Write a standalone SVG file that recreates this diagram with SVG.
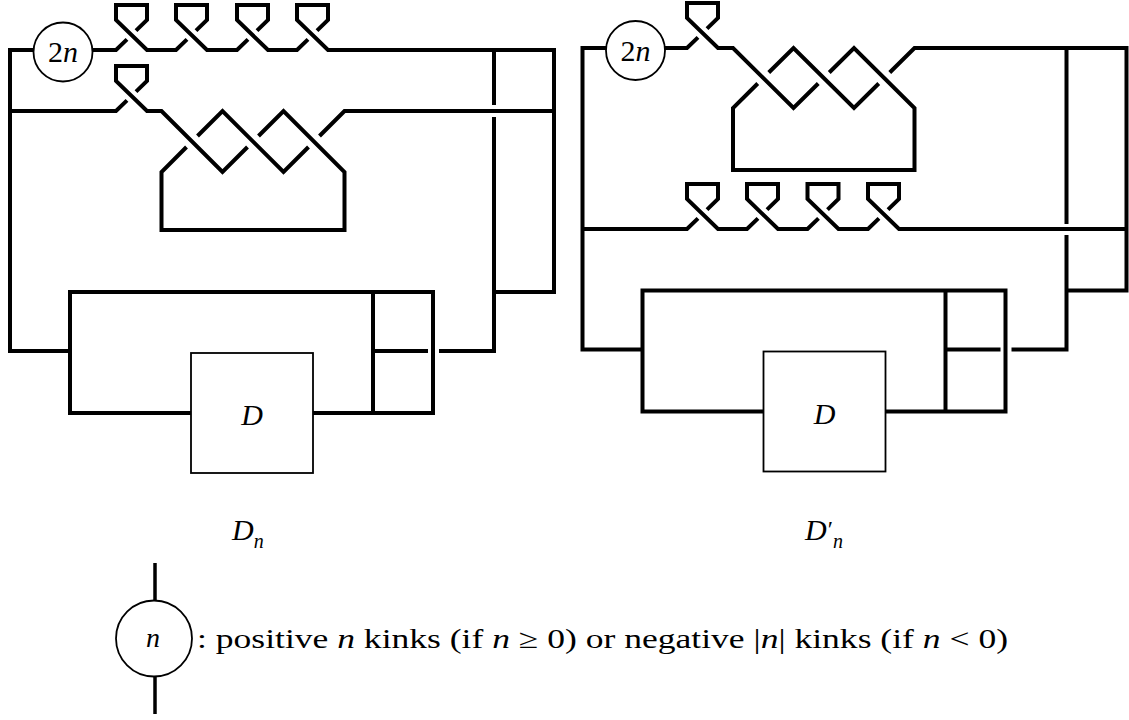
<svg xmlns="http://www.w3.org/2000/svg" width="1129" height="720" viewBox="0 0 1129 720">
<style>
.k{fill:none;stroke:#000;stroke-width:4;stroke-linejoin:miter;stroke-linecap:butt}
.t{fill:#fff;stroke:#000;stroke-width:1.8}
.tl{fill:none;stroke:#000;stroke-width:3.5}
.m{font-family:"Liberation Serif","Times New Roman",serif;fill:#000}
.i{font-style:italic}
</style>
<rect width="1129" height="720" fill="#fff"/>
<g id="connectors">
  <!-- Left diagram D_n -->
  <path class="k" d="M70 351 L10 351 L10 50 L33.5 50"/>
  <path class="k" d="M92.5 50 L116 50 L127 39.4"/>
  <path class="k" d="M136 30.6 L147 20 L147 5 L116 5 L116 20 L147 50 L176 50 L187 39.4"/>
  <path class="k" d="M196 30.6 L207 20 L207 5 L176 5 L176 20 L207 50 L237 50 L248 39.4"/>
  <path class="k" d="M257 30.6 L268 20 L268 5 L237 5 L237 20 L268 50 L297 50 L308 39.4"/>
  <path class="k" d="M317 30.6 L328 20 L328 5 L297 5 L297 20 L328 50 L554 50 L554 292 L494 292"/>
  <path class="k" d="M494 50 L494 105"/>
  <path class="k" d="M494 117 L494 351 L439 351"/>
  <path class="k" d="M10 111 L116 111 L127 100.4"/>
  <path class="k" d="M136 91.6 L147 81 L147 66 L116 66 L116 81 L147 111 L161.5 111 L222.5 172 L247.5 147"/>
  <path class="k" d="M258.5 136 L283.5 111 L344.5 172 L344.5 230 L161.5 230 L161.5 172 L186.5 147"/>
  <path class="k" d="M197.5 136 L222.5 111 L283.5 172 L308.5 147"/>
  <path class="k" d="M319.5 136 L344.5 111 L554 111"/>
  <path class="k" d="M191 413 L70 413 L70 292 L433 292 L433 413 L313 413"/>
  <path class="k" d="M373 292 L373 413"/>
  <path class="k" d="M373 351 L428 351"/>
  <!-- Right diagram D'_n -->
  <path class="k" d="M642.5 349.5 L582.5 349.5 L582.5 48 L606 48"/>
  <path class="k" d="M665 48 L687 48 L698 37.4"/>
  <path class="k" d="M707 28.6 L718 18 L718 3 L687 3 L687 18 L718 48 L733 48 L793.5 108 L818.25 83.5"/>
  <path class="k" d="M829.25 72.5 L854 48 L914.5 108 L914.5 170 L733 170 L733 108 L757.75 83.5"/>
  <path class="k" d="M768.75 72.5 L793.5 48 L854 108 L878.75 83.5"/>
  <path class="k" d="M889.75 72.5 L914.5 48 L1126.5 48 L1126.5 290.5 L1066.5 290.5"/>
  <path class="k" d="M1066.5 48 L1066.5 224"/>
  <path class="k" d="M1066.5 235 L1066.5 349.5 L1011.5 349.5"/>
  <path class="k" d="M582.5 229 L687 229 L698 218.4"/>
  <path class="k" d="M707 209.6 L718 199 L718 184 L687 184 L687 199 L718 229 L747 229 L758 218.4"/>
  <path class="k" d="M767 209.6 L778 199 L778 184 L747 184 L747 199 L778 229 L807.5 229 L818.5 218.4"/>
  <path class="k" d="M827.5 209.6 L838.5 199 L838.5 184 L807.5 184 L807.5 199 L838.5 229 L868 229 L879 218.4"/>
  <path class="k" d="M888 209.6 L899 199 L899 184 L868 184 L868 199 L899 229 L1126.5 229"/>
  <path class="k" d="M763.5 411.5 L642.5 411.5 L642.5 290.5 L1005.5 290.5 L1005.5 411.5 L885.5 411.5"/>
  <path class="k" d="M945.5 290.5 L945.5 411.5"/>
  <path class="k" d="M945.5 349.5 L1000.5 349.5"/>
  <!-- Legend strand -->
  <path class="tl" d="M155 563 L155 600"/>
  <path class="tl" d="M155 677 L155 714"/>
</g>
<g id="twist-n-left">
  <circle class="t" cx="63" cy="52" r="29.5"/>
  <text class="m" x="63" y="62" font-size="30" text-anchor="middle">2<tspan class="i">n</tspan></text>
</g>
<g id="twist-n-right">
  <circle class="t" cx="635.5" cy="50.5" r="29.5"/>
  <text class="m" x="635.5" y="60.5" font-size="30" text-anchor="middle">2<tspan class="i">n</tspan></text>
</g>
<g id="box-D-left">
  <rect class="t" x="191" y="353" width="122" height="120"/>
  <text class="m i" x="252" y="425" font-size="30" text-anchor="middle">D</text>
</g>
<g id="box-D-right">
  <rect class="t" x="763.5" y="351.5" width="122" height="120"/>
  <text class="m i" x="824.5" y="423.5" font-size="30" text-anchor="middle">D</text>
</g>
<g id="label-Dn">
  <text class="m i" x="232" y="540" font-size="30">D<tspan font-size="20" dy="8">n</tspan></text>
</g>
<g id="label-Dpn">
  <text class="m i" x="805" y="540" font-size="30">D<tspan font-style="normal" font-size="24" dx="1" dy="-3">′</tspan><tspan font-size="20" dx="0" dy="11">n</tspan></text>
</g>
<g id="legend">
  <circle class="t" cx="154" cy="638.5" r="38"/>
  <text class="m i" x="153" y="647" font-size="28" text-anchor="middle">n</text>
  <text class="m" x="197" y="648" font-size="27" textLength="811" lengthAdjust="spacingAndGlyphs">: positive <tspan class="i">n</tspan> kinks (if <tspan class="i">n</tspan> ≥ 0) or negative |<tspan class="i">n</tspan>| kinks (if <tspan class="i">n</tspan> &lt; 0)</text>
</g>
</svg>
